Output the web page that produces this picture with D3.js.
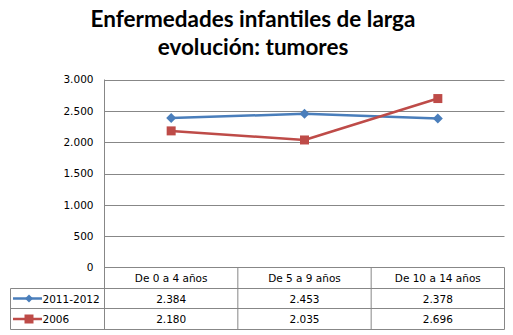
<!DOCTYPE html>
<html>
<head>
<meta charset="utf-8">
<script src="https://cdn.jsdelivr.net/npm/d3@7"></script>
<style>
  html, body { margin: 0; padding: 0; background: #fff; }
  svg { display: block; }
</style>
</head>
<body>
<script>
// Chart data
const categories = ["De 0 a 4 años", "De 5 a 9 años", "De 10 a 14 años"];
const seriesNames = ["2011-2012", "2006"];
const values2011 = [2384, 2453, 2378];
const values2006 = [2180, 2035, 2696];
const yTicks = [0, 500, 1000, 1500, 2000, 2500, 3000];
const titleLines = ["Enfermedades infantiles de larga", "evolución: tumores"];

const W = 513, H = 335;
const colors = ["#4A7EBB", "#BE4B48"];
const gridColor = "#878787";
const font = "'DejaVu Sans', Verdana, sans-serif";

const svg = d3.select("body").append("svg").attr("width", W).attr("height", H);

const locale = d3.formatLocale({ decimal: ",", thousands: ".", grouping: [3], currency: ["", ""] });
const fmt = locale.format(",d");

const plot = { left: 104.5, right: 504.5, top: 79.5, bottom: 267.5 };
const x = d3.scaleBand().domain(categories).range([plot.left, plot.right]);
const y = d3.scaleLinear().domain([0, 3000]).range([plot.bottom, plot.top]);

// Title
const title = svg.append("g").attr("font-family", "Lato, 'Open Sans', sans-serif")
  .attr("font-weight", "bold").attr("fill", "#000").attr("text-anchor", "middle");
const t1 = title.append("text").attr("x", 253).attr("y", 27).attr("font-size", 20).text(titleLines[0]);
const w1 = t1.node().getComputedTextLength();
const fs = 20 * 325 / w1;
t1.attr("font-size", fs);
title.append("text").attr("x", 253).attr("y", 55).attr("font-size", fs).text(titleLines[1]);

// Gridlines and y axis labels
const yAxis = d3.axisLeft(y).tickValues(yTicks).tickFormat(fmt).tickSize(0).tickPadding(11);
const yg = svg.append("g").attr("transform", `translate(${plot.left},0)`).call(yAxis);
yg.select(".domain").remove();
yg.selectAll("text").attr("font-family", font).attr("font-size", 10.5).attr("fill", "#000");

svg.append("g").selectAll("line").data(yTicks.filter(d => d > 0)).join("line")
  .attr("x1", plot.left).attr("x2", plot.right)
  .attr("y1", d => Math.round(y(d)) + 0.5).attr("y2", d => Math.round(y(d)) + 0.5)
  .attr("stroke", gridColor).attr("stroke-width", 1);

// Data table below the plot
const rowH = [plot.bottom, 288.5, 308.5, 329.5];
const tableLeft = 10.5;
const tg = svg.append("g").attr("stroke", gridColor).attr("stroke-width", 1).attr("fill", "none");
// horizontal rules
tg.append("line").attr("x1", plot.left).attr("x2", plot.right).attr("y1", rowH[0]).attr("y2", rowH[0]);
[rowH[1], rowH[2], rowH[3]].forEach(yy => {
  tg.append("line").attr("x1", tableLeft).attr("x2", plot.right).attr("y1", yy).attr("y2", yy);
});
// vertical rules
tg.append("line").attr("x1", plot.left).attr("x2", plot.left).attr("y1", plot.top).attr("y2", rowH[3]);
tg.append("line").attr("x1", tableLeft).attr("x2", tableLeft).attr("y1", rowH[1]).attr("y2", rowH[3]);
categories.forEach(c => {
  const xr = x(c) + x.bandwidth();
  tg.append("line").attr("x1", xr).attr("x2", xr).attr("y1", rowH[0]).attr("y2", rowH[3]);
});

const txt = svg.append("g").attr("font-family", font).attr("font-size", 10.5).attr("fill", "#000")
  .attr("text-anchor", "middle").attr("dominant-baseline", "central");
categories.forEach(c => {
  txt.append("text").attr("x", x(c) + x.bandwidth() / 2).attr("y", (rowH[0] + rowH[1]) / 2).text(c);
});
const allSeries = [values2011, values2006];
allSeries.forEach((vals, i) => {
  const cy = (rowH[i + 1] + rowH[i + 2]) / 2;
  vals.forEach((v, j) => {
    txt.append("text").attr("x", x(categories[j]) + x.bandwidth() / 2).attr("y", cy).text(fmt(v));
  });
  txt.append("text").attr("x", 42.5).attr("y", cy).attr("text-anchor", "start").text(seriesNames[i]);
});

// Marker shapes
function markerPath(kind, r) {
  if (kind === 0) return `M0,${-r}L${r},0L0,${r}L${-r},0Z`;
  return `M${-r},${-r}H${r}V${r}H${-r}Z`;
}

// Legend keys inside the table
allSeries.forEach((vals, i) => {
  const cy = (rowH[i + 1] + rowH[i + 2]) / 2;
  svg.append("line").attr("x1", 13).attr("x2", 42).attr("y1", cy).attr("y2", cy)
    .attr("stroke", colors[i]).attr("stroke-width", 2.5);
  svg.append("path").attr("d", markerPath(i, i === 0 ? 4 : 4.5))
    .attr("transform", `translate(29,${cy})`).attr("fill", colors[i]);
});

// Lines and markers
const cx = d => x(d) + x.bandwidth() / 2;
allSeries.forEach((vals, i) => {
  const pts = vals.map((v, j) => [cx(categories[j]), y(v)]);
  svg.append("path").datum(pts).attr("d", d3.line())
    .attr("fill", "none").attr("stroke", colors[i]).attr("stroke-width", 2.5)
    .attr("stroke-linejoin", "round");
  svg.append("g").selectAll("path").data(pts).join("path")
    .attr("d", markerPath(i, i === 0 ? 5 : 4.5))
    .attr("transform", d => `translate(${d[0]},${d[1]})`)
    .attr("fill", colors[i]);
});
</script>
</body>
</html>
